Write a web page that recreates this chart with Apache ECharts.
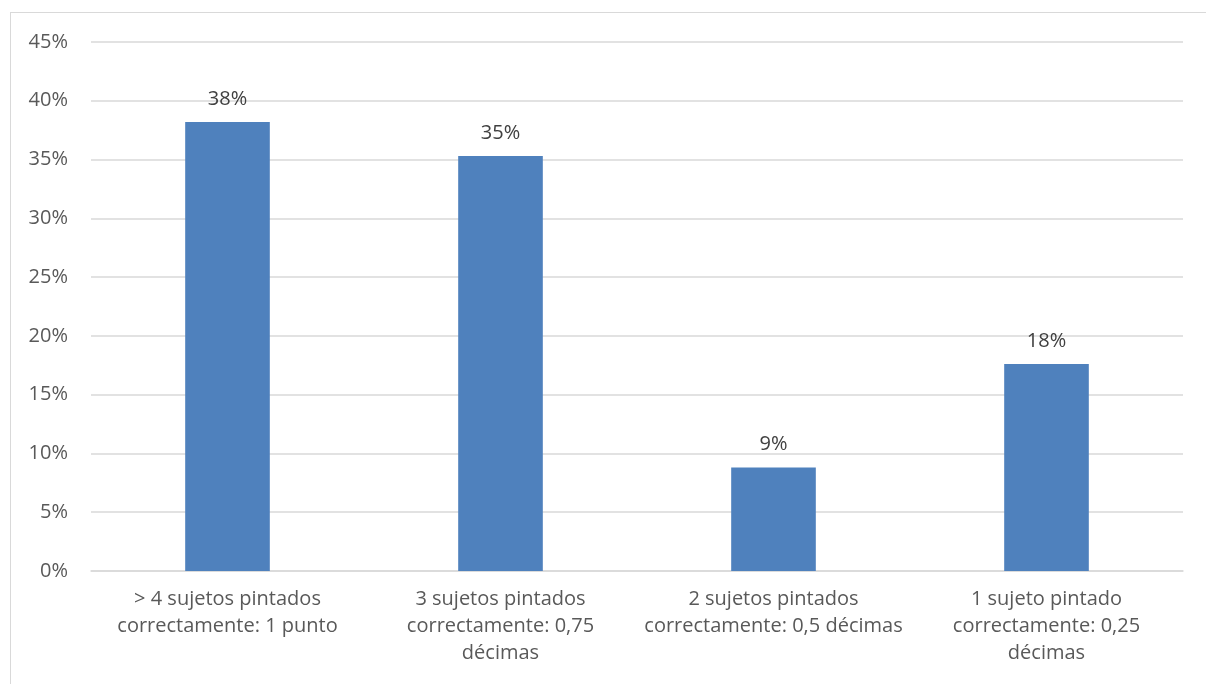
<!DOCTYPE html>
<html>
<head>
<meta charset="utf-8">
<script src="https://cdn.jsdelivr.net/npm/echarts@6/dist/echarts.min.js"></script>
<style>
html,body{margin:0;padding:0;background:#fff;overflow:hidden;}
#frame{position:absolute;left:10px;top:12px;width:1210px;height:690px;border:1px solid #d9d9d9;box-sizing:border-box;}
#chart{position:absolute;left:0;top:0;width:1206px;height:684px;}
</style>
</head>
<body>
<div id="frame"></div>
<div id="chart"></div>
<script>
const categories = [
  "> 4 sujetos pintados\ncorrectamente: 1 punto",
  "3 sujetos pintados\ncorrectamente: 0,75\ndécimas",
  "2 sujetos pintados\ncorrectamente: 0,5 décimas",
  "1 sujeto pintado\ncorrectamente: 0,25\ndécimas"
];
const values = [38.2, 35.3, 8.8, 17.6];
const labels = ["38%", "35%", "9%", "18%"];

const chart = echarts.init(document.getElementById('chart'));
chart.setOption({
  animation: false,
  grid: {left: 91, right: 23, top: 42, bottom: 113, containLabel: false},
  xAxis: {
    type: 'category',
    data: categories,
    axisLine: {show: true, lineStyle: {color: '#d9d9d9', width: 1.5}},
    axisTick: {show: false},
    axisLabel: {color: '#595959', fontFamily: 'Open Sans', fontSize: 20, lineHeight: 27, margin: 15, interval: 0}
  },
  yAxis: {
    type: 'value',
    min: 0, max: 45, interval: 5,
    axisLine: {show: false},
    axisTick: {show: false},
    splitLine: {lineStyle: {color: '#d9d9d9', width: 1.5}},
    axisLabel: {color: '#595959', fontFamily: 'Open Sans', fontSize: 20, margin: 23, formatter: v => v + '%'}
  },
  series: [{
    type: 'bar',
    data: values,
    barWidth: '31%',
    itemStyle: {color: '#4f81bd'},
    label: {
      show: true, position: 'top', distance: 13,
      color: '#404040', fontFamily: 'Open Sans', fontSize: 20,
      formatter: p => labels[p.dataIndex]
    }
  }]
});
</script>
</body>
</html>
